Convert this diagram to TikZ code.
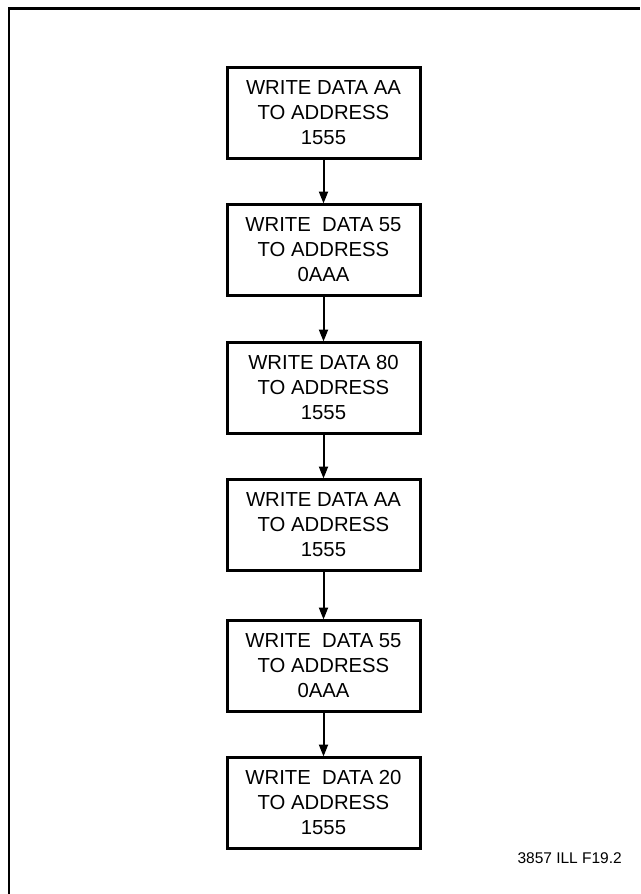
\documentclass[tikz,border=0pt]{standalone}
\usepackage{fontspec}
\setmainfont{Liberation Sans}
\usetikzlibrary{arrows.meta}
\begin{document}
\begin{tikzpicture}[x=1pt,y=-1pt,
  stepbox/.style={draw,rectangle,line width=3pt,minimum width=193pt,minimum height=91pt,
    align=center,inner sep=0pt,font=\fontsize{20.3}{25}\selectfont},
  flow/.style={line width=2pt,-{Triangle[length=12pt,width=9pt]},shorten >=-1pt},
  frame/.style={line width=2.2pt}]
\useasboundingbox (0,0) rectangle (640,894);
\coordinate (fa) at (9,894);
\coordinate (fb) at (9,8.5);
\coordinate (fc) at (640,8.5);
\draw[frame] (fa) -- (fb) -- (fc);
\node[stepbox] (b1) at (323.5,112.5) {WRITE DATA AA\\TO ADDRESS\\1555};
\node[stepbox] (b2) at (323.5,249.5) {WRITE\ \ DATA 55\\TO ADDRESS\\0AAA};
\node[stepbox] (b3) at (323.5,387.5) {WRITE DATA 80\\TO ADDRESS\\1555};
\node[stepbox] (b4) at (323.5,524.5) {WRITE DATA AA\\TO ADDRESS\\1555};
\node[stepbox] (b5) at (323.5,665.5) {WRITE\ \ DATA 55\\TO ADDRESS\\0AAA};
\node[stepbox] (b6) at (323.5,802.5) {WRITE\ \ DATA 20\\TO ADDRESS\\1555};
\draw[flow] (b1) -- (b2);
\draw[flow] (b2) -- (b3);
\draw[flow] (b3) -- (b4);
\draw[flow] (b4) -- (b5);
\draw[flow] (b5) -- (b6);
\node[anchor=base east,inner sep=0pt,font=\fontsize{15.5}{18}\selectfont] (lbl) at (622,863) {3857 ILL F19.2};
\end{tikzpicture}
\end{document}
